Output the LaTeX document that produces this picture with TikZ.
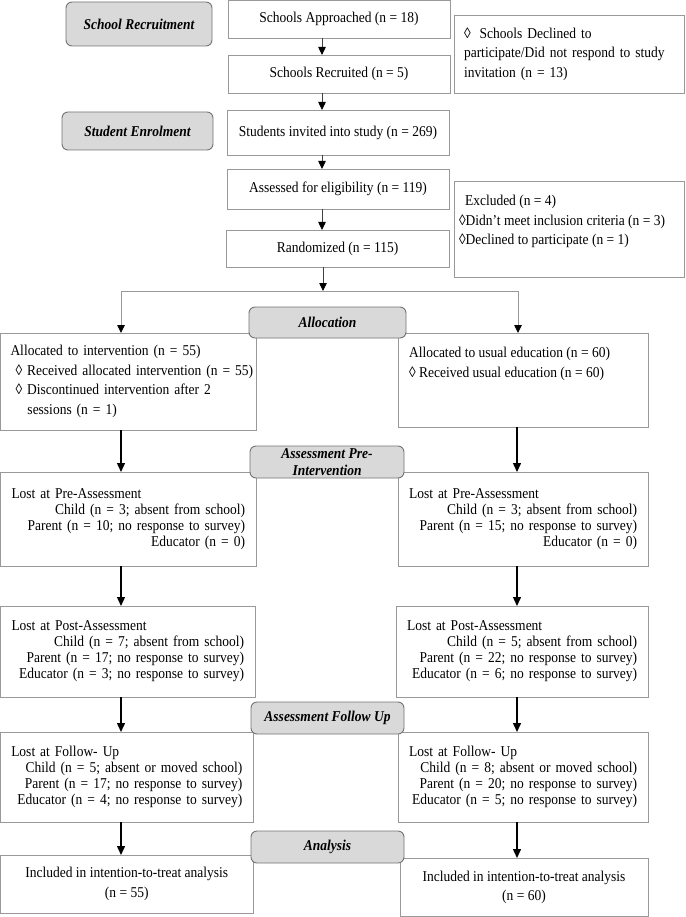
\documentclass[tikz,border=0pt]{standalone}
\usepackage{fontspec}
\setmainfont{Liberation Serif}[FakeStretch=0.9]
\usetikzlibrary{arrows.meta}
\definecolor{boxline}{gray}{0.6}
\definecolor{labfill}{gray}{0.85}
\definecolor{labline}{gray}{0.45}
\definecolor{brkline}{gray}{0.6}
\newcommand\Lf[1]{\makebox[\hsize][l]{#1}}
\newcommand\Rt[1]{\makebox[\hsize][r]{#1}}
\begin{document}
\begin{tikzpicture}[x=1pt,y=-1pt,
 wbox/.style={draw=boxline,line width=0.9pt,fill=white,inner sep=0pt,outer sep=0pt,font=\fontsize{15}{19.5}\selectfont,align=center},
 lostbox/.style={wbox,font=\fontsize{15}{16}\selectfont,align=left},
 lab/.style={draw=labline,line width=0.9pt,fill=labfill,rounded corners=6pt,inner sep=0pt,outer sep=0pt,font=\fontsize{15}{17}\selectfont\bfseries\itshape,align=center},
 txt/.style={inner sep=0pt,outer sep=0pt,font=\fontsize{15}{19.5}\selectfont,align=left},
 tarr/.style={draw=black!75,line width=0.8pt,-{Triangle[length=8pt,width=7.5pt,color=black]}},
 brk/.style={draw=brkline,line width=0.9pt},
 barr/.style={brk,-{Triangle[length=8pt,width=7.5pt,color=black]}},
 arr/.style={draw=black,line width=1.4pt,-{Triangle[length=9pt,width=8pt]}},
]
\useasboundingbox (0,0) rectangle (685,917);

% --- top boxes
\node[wbox,minimum width=222pt,minimum height=37.5pt] (appr) at (339,19.25) {Schools Approached (n = 18)};
\node[wbox,minimum width=222pt,minimum height=38pt] (recr) at (339,74) {Schools Recruited (n = 5)};
\node[wbox,minimum width=230pt,minimum height=78pt,text width=210pt,align=left] (decl) at (569,54)
 {\Lf{◊\hspace{9pt}Schools Declined to}\\\Lf{participate/Did not respond to study}\\\Lf{invitation (n = 13)}};
\node[wbox,minimum width=222pt,minimum height=45pt] (invit) at (338,132.5) {Students invited into study (n = 269)};
\node[wbox,minimum width=222pt,minimum height=40pt] (assess) at (338,189) {Assessed for eligibility (n = 119)};
\node[wbox,minimum width=223pt,minimum height=37pt] (rand) at (337.5,248.5) {Randomized (n = 115)};
\node[wbox,minimum width=230pt,minimum height=96pt] (excl) at (569,229) {};
\node[txt,anchor=north west] (exclt) at (459,195.5)
 {\hspace*{6pt}Excluded (n = 4)\\◊Didn’t meet inclusion criteria (n = 3)\\◊Declined to participate (n = 1)};

% --- allocation
\node[wbox,minimum width=255.5pt,minimum height=97pt,text width=235.5pt,align=left] (lalloc) at (128.25,381.5)
 {\Lf{Allocated to intervention (n = 55)}\\\Lf{\hspace*{5pt}◊ Received allocated intervention (n = 55)}\\\Lf{\hspace*{5pt}◊ Discontinued intervention after 2}\\\Lf{\hspace*{17pt}sessions (n = 1)}};
\node[wbox,minimum width=250pt,minimum height=94pt] (ralloc) at (523,380) {};
\node[txt,anchor=north west] (rallt) at (409,347.5)
 {Allocated to usual education (n = 60)\\◊ Received usual education (n = 60)};

% --- pre assessment
\node[lostbox,minimum width=255.5pt,minimum height=94pt,text width=233.5pt] (lpre) at (128.25,519)
 {\Lf{Lost at Pre-Assessment}\\\Rt{Child (n = 3; absent from school)}\\\Rt{Parent (n = 10; no response to survey)}\\\Rt{Educator (n = 0)}};
\node[lostbox,minimum width=250pt,minimum height=94pt,text width=228pt] (rpre) at (523,519)
 {\Lf{Lost at Pre-Assessment}\\\Rt{Child (n = 3; absent from school)}\\\Rt{Parent (n = 15; no response to survey)}\\\Rt{Educator (n = 0)}};

% --- post assessment
\node[lostbox,minimum width=254.5pt,minimum height=91pt,text width=232.5pt] (lpost) at (127.75,651.5)
 {\Lf{Lost at Post-Assessment}\\\Rt{Child (n = 7; absent from school)}\\\Rt{Parent (n = 17; no response to survey)}\\\Rt{Educator (n = 3; no response to survey)}};
\node[lostbox,minimum width=252pt,minimum height=91pt,text width=230pt] (rpost) at (522,651.5)
 {\Lf{Lost at Post-Assessment}\\\Rt{Child (n = 5; absent from school)}\\\Rt{Parent (n = 22; no response to survey)}\\\Rt{Educator (n = 6; no response to survey)}};

% --- follow up
\node[lostbox,minimum width=252.5pt,minimum height=90pt,text width=231pt] (lfu) at (126.75,777)
 {\Lf{Lost at Follow- Up}\\\Rt{Child (n = 5; absent or moved school)}\\\Rt{Parent (n = 17; no response to survey)}\\\Rt{Educator (n = 4; no response to survey)}};
\node[lostbox,minimum width=250pt,minimum height=90pt,text width=228pt] (rfu) at (523,777)
 {\Lf{Lost at Follow- Up}\\\Rt{Child (n = 8; absent or moved school)}\\\Rt{Parent (n = 20; no response to survey)}\\\Rt{Educator (n = 5; no response to survey)}};

% --- analysis
\node[wbox,minimum width=252.5pt,minimum height=58pt] (litt) at (126.75,884) {Included in intention-to-treat analysis\\(n = 55)};
\node[wbox,minimum width=248pt,minimum height=58.5pt] (ritt) at (524,887.25) {Included in intention-to-treat analysis\\(n = 60)};

% --- connectors
\coordinate (tx) at (322,0);
\coordinate (bm) at (323,291);
\coordinate (bl) at (121,291);
\coordinate (br) at (518,291);
\coordinate (lx) at (121,0);
\coordinate (rx) at (517,0);
\draw[tarr] (appr.south -| tx) -- (recr.north -| tx);
\draw[tarr] (recr.south -| tx) -- (invit.north -| tx);
\draw[tarr] (invit.south -| tx) -- (assess.north -| tx);
\draw[tarr] (assess.south -| tx) -- (rand.north -| tx);
\draw[tarr] (rand.south -| bm) -- (bm);
\draw[brk] (bl) -- (br);
\draw[barr] (bl) -- (lalloc.north -| bl);
\draw[barr] (br) -- (ralloc.north -| br);
\draw[arr] (lalloc.south -| lx) -- (lpre.north -| lx);
\draw[arr] (ralloc.south -| rx) -- (rpre.north -| rx);
\draw[arr] (lpre.south -| lx) -- (lpost.north -| lx);
\draw[arr] (rpre.south -| rx) -- (rpost.north -| rx);
\draw[arr] (lpost.south -| lx) -- (lfu.north -| lx);
\draw[arr] (rpost.south -| rx) -- (rfu.north -| rx);
\draw[arr] (lfu.south -| lx) -- (litt.north -| lx);
\draw[arr] (rfu.south -| rx) -- (ritt.north -| rx);

% --- stage labels
\node[lab,minimum width=146pt,minimum height=44pt] (lsr) at (139,24) {School Recruitment};
\node[lab,minimum width=151pt,minimum height=38pt] (lse) at (137.5,131) {Student Enrolment};
\node[lab,minimum width=157pt,minimum height=31pt] (lal) at (327.5,322.5) {Allocation};
\node[lab,minimum width=154pt,minimum height=32pt] (lpi) at (327,462) {Assessment Pre-\\Intervention};
\node[lab,minimum width=153pt,minimum height=32pt] (lfl) at (327.5,718) {Assessment Follow Up};
\node[lab,minimum width=153pt,minimum height=32pt] (lan) at (327.5,847) {Analysis};
\end{tikzpicture}
\end{document}
